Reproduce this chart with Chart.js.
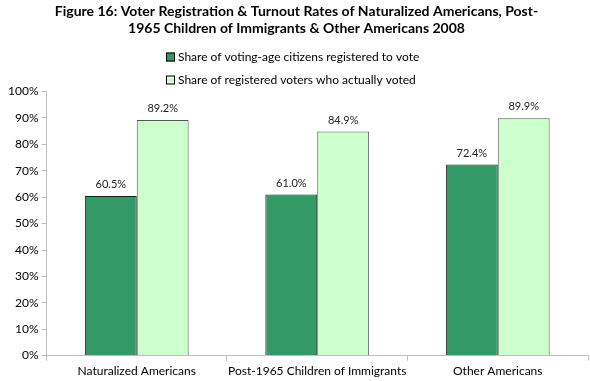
<!DOCTYPE html>
<html><head><meta charset="utf-8">
<script src="https://cdn.jsdelivr.net/npm/chart.js@4.4.0/dist/chart.umd.min.js"></script>
<style>html,body{margin:0;padding:0;background:#fff}#wrap{width:590px;height:381px}</style>
</head><body><div id="wrap"><canvas id="c"></canvas></div>
<script>
const categories = ["Naturalized Americans", "Post-1965 Children of Immigrants", "Other Americans"];
const registered = [60.5, 61.0, 72.4];
const voted = [89.2, 84.9, 89.9];
const seriesNames = ["Share of voting-age citizens registered to vote", "Share of registered voters who actually voted"];
const titleLines = ["Figure 16: Voter Registration & Turnout Rates of Naturalized Americans, Post-", "1965 Children of Immigrants & Other Americans 2008"];
const FONT = "Lato, 'Open Sans', sans-serif";

const legendPlugin = {
  id: 'customLegend',
  afterDraw(chart) {
    const ctx = chart.ctx;
    ctx.save();
    ctx.font = "12px " + FONT;
    ctx.textBaseline = 'middle';
    ctx.textAlign = 'left';
    const ys = [57, 80];
    chart.data.datasets.forEach((ds, i) => {
      const x = 166, y = ys[i];
      ctx.fillStyle = ds.backgroundColor;
      ctx.fillRect(x, y - 4.5, 9, 9);
      ctx.strokeStyle = '#000';
      ctx.lineWidth = 1;
      ctx.strokeRect(x + 0.5, y - 4, 8, 8);
      ctx.fillStyle = '#000';
      ctx.fillText(ds.label, x + 12, y);
    });
    ctx.restore();
  }
};

const valueLabels = {
  id: 'valueLabels',
  afterDatasetsDraw(chart) {
    const ctx = chart.ctx;
    ctx.save();
    ctx.font = "11px " + FONT;
    ctx.fillStyle = '#222';
    ctx.textAlign = 'center';
    ctx.textBaseline = 'bottom';
    chart.data.datasets.forEach((ds, i) => {
      chart.getDatasetMeta(i).data.forEach((bar, j) => {
        ctx.fillText(ds.data[j].toFixed(1) + '%', bar.x, bar.y - 6);
      });
    });
    ctx.restore();
  }
};

new Chart(document.getElementById('c'), {
  type: 'bar',
  data: {
    labels: categories,
    datasets: [
      { label: seriesNames[0], data: registered, backgroundColor: '#339966', borderColor: '#1a1a1a', borderWidth: 1 },
      { label: seriesNames[1], data: voted, backgroundColor: '#CCFFCC', borderColor: '#555555', borderWidth: 1 }
    ]
  },
  options: {
    responsive: true,
    maintainAspectRatio: false,
    animation: false,
    datasets: { bar: { categoryPercentage: 0.575, barPercentage: 1.0 } },
    layout: { padding: { left: 5, right: 2, top: 0, bottom: 0 } },
    plugins: {
      legend: { display: false },
      tooltip: { enabled: false },
      title: {
        display: true,
        text: titleLines,
        font: { family: FONT, size: 14, weight: 'bold' },
        color: '#000',
        lineHeight: 1.45,
        padding: { top: 3, bottom: 55 }
      }
    },
    scales: {
      x: {
        grid: { display: true, drawOnChartArea: false, offset: true, color: '#bfbfbf', tickLength: 5 },
        border: { color: '#bfbfbf' },
        ticks: { color: '#000', font: { family: FONT, size: 12 }, padding: 3, maxRotation: 0, minRotation: 0, autoSkip: false }
      },
      y: {
        min: 0, max: 100,
        grid: { display: true, drawOnChartArea: false, color: '#bfbfbf', tickLength: 5 },
        border: { color: '#bfbfbf' },
        ticks: { stepSize: 10, color: '#000', font: { family: FONT, size: 12 }, padding: 3, callback: v => v + '%' }
      }
    }
  },
  plugins: [legendPlugin, valueLabels]
});
</script></body></html>
